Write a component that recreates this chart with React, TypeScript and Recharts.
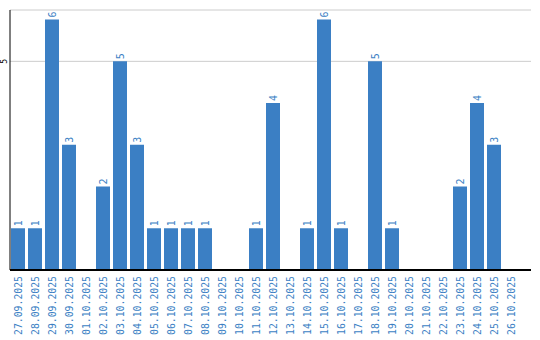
import { BarChart, Bar, XAxis, YAxis, CartesianGrid, LabelList } from 'recharts';

const dates = [
  '27.09.2025', '28.09.2025', '29.09.2025', '30.09.2025', '01.10.2025', '02.10.2025',
  '03.10.2025', '04.10.2025', '05.10.2025', '06.10.2025', '07.10.2025', '08.10.2025',
  '09.10.2025', '10.10.2025', '11.10.2025', '12.10.2025', '13.10.2025', '14.10.2025',
  '15.10.2025', '16.10.2025', '17.10.2025', '18.10.2025', '19.10.2025', '20.10.2025',
  '21.10.2025', '22.10.2025', '23.10.2025', '24.10.2025', '25.10.2025', '26.10.2025',
];
const counts = [1, 1, 6, 3, 0, 2, 5, 3, 1, 1, 1, 1, 0, 0, 1, 4, 0, 1, 6, 1, 0, 5, 1, 0, 0, 0, 2, 4, 3, 0];
const yTicks = [5];

const BLUE = '#3b7fc4';
const FONT = '"DejaVu Sans Mono", monospace';

const data = dates.map((d, i) => ({ date: d, count: counts[i] }));

const DateTick = (props: any) => {
  const { x, payload } = props;
  // top of the rotated label sits just below the axis line
  const top = props.y - 2;
  return (
    <text
      x={0}
      y={0}
      transform={`translate(${x + 4}, ${top}) rotate(-90)`}
      textAnchor="end"
      fill={BLUE}
      fontSize={9.8}
      fontFamily={FONT}
    >
      {payload.value}
    </text>
  );
};

const ValueTick = (props: any) => {
  const { y, payload } = props;
  return (
    <text
      x={0}
      y={0}
      transform={`translate(7, ${y}) rotate(-90)`}
      textAnchor="middle"
      fill="#000"
      fontSize={8}
      fontFamily={FONT}
    >
      {payload.value}
    </text>
  );
};

const BarLabel = (props: any) => {
  const { x, y, width, value } = props;
  if (!value) return null;
  const cx = x + width / 2 + 4;
  const ty = y - 2;
  return (
    <text
      x={0}
      y={0}
      transform={`translate(${cx}, ${ty}) rotate(-90)`}
      textAnchor="start"
      fill={BLUE}
      fontSize={10}
      fontFamily={FONT}
    >
      {value}
    </text>
  );
};

export default function App() {
  return (
    <div style={{ position: 'absolute', left: 0, top: 0, background: '#fff' }}>
      <BarChart
        width={540}
        height={340}
        data={data}
        margin={{ top: 10, right: 9, left: 0, bottom: 0 }}
        barSize={14}
      >
        <CartesianGrid vertical={false} stroke="#cccccc" />
        <XAxis
          dataKey="date"
          interval={0}
          height={70}
          padding={{ left: -1, right: 12 }}
          tick={<DateTick />}
          tickLine={false}
          axisLine={{ stroke: '#000', strokeWidth: 2 }}
        />
        <YAxis
          width={10}
          domain={[0, 6.23]}
          ticks={yTicks}
          tick={<ValueTick />}
          tickLine={false}
          axisLine={{ stroke: '#000', strokeWidth: 1 }}
        />
        <Bar dataKey="count" fill={BLUE} isAnimationActive={false}>
          <LabelList dataKey="count" content={<BarLabel />} />
        </Bar>
      </BarChart>
    </div>
  );
}
